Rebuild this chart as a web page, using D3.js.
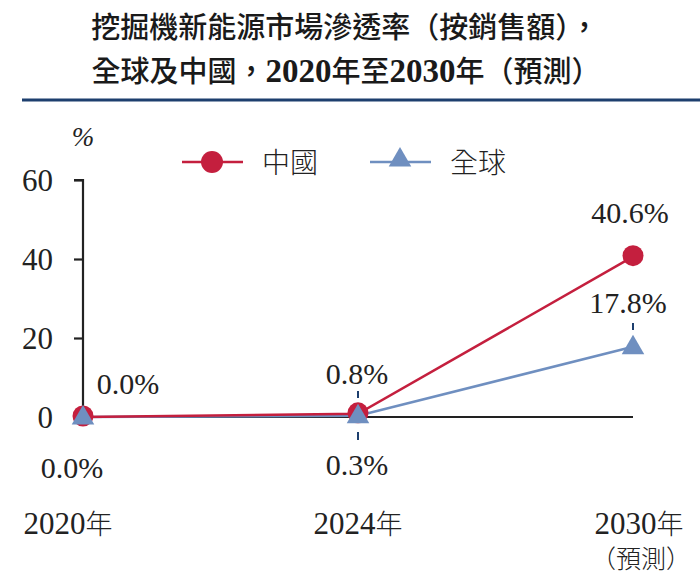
<!DOCTYPE html>
<html>
<head>
<meta charset="utf-8">
<script src="https://cdn.jsdelivr.net/npm/d3@7"></script>
</head>
<body style="margin:0">
<div id="chart"></div>
<script>
var years = ['2020年', '2024年', '2030年'];
var chinaVals = [0.0, 0.8, 40.6];
var globalVals = [0.0, 0.3, 17.8];
var chinaLabels = ['0.0%', '0.8%', '40.6%'];
var globalLabels = ['0.0%', '0.3%', '17.8%'];
var yTicks = [0, 20, 40, 60];

var w = 700, h = 582;
var red = '#c41f3e', blue = '#6f8fc0', navy = '#1d3f6e';
var SERIF = "'Liberation Serif'";
var CJK = "'Noto Sans CJK TC'";

var svg = d3.select('#chart')
    .append('svg')
    .attr('width', w)
    .attr('height', h);

// title
svg.append('text')
    .attr('x', 345).attr('y', 38)
    .attr('text-anchor', 'middle')
    .style('font-family', CJK).style('font-weight', 500)
    .style('font-size', '29px').style('fill', '#1a1a1a')
    .text('挖掘機新能源市場滲透率（按銷售額），');
var t2 = svg.append('text')
    .attr('x', 346).attr('y', 82)
    .attr('text-anchor', 'middle')
    .style('font-family', CJK).style('font-weight', 500)
    .style('font-size', '29px').style('fill', '#1a1a1a');
t2.append('tspan').text('全球及中國，');
t2.append('tspan').style('font-family', SERIF).style('font-weight', 700).style('font-size', '33px').text('2020');
t2.append('tspan').text('年至');
t2.append('tspan').style('font-family', SERIF).style('font-weight', 700).style('font-size', '33px').text('2030');
t2.append('tspan').text('年（預測）');

svg.append('line')
    .attr('x1', 22).attr('x2', 700)
    .attr('y1', 100).attr('y2', 100)
    .style('stroke', navy).style('stroke-width', 3);

var x = d3.scalePoint()
    .domain(years)
    .range([83, 633]);
var y = d3.scaleLinear()
    .domain([0, 60])
    .range([417, 180]);

// y axis
var yAxis = svg.append('g')
    .attr('transform', 'translate(83,0)')
    .call(d3.axisLeft(y).tickValues(yTicks).tickSize(9).tickPadding(14));
yAxis.select('.domain').style('stroke', '#222').style('stroke-width', 2.2)
    .attr('d', 'M-9,' + y(60) + 'H0V' + y(0));
yAxis.selectAll('.tick line').style('stroke', '#222').style('stroke-width', 2.2);
yAxis.selectAll('.tick line').filter((d) => d === 0).remove();
yAxis.selectAll('.tick text')
    .style('font-family', SERIF)
    .style('font-size', '31px').style('fill', '#222')
    .attr('x', -30).attr('dy', '0.35em');

svg.append('text')
    .attr('x', 83).attr('y', 146)
    .attr('text-anchor', 'middle')
    .style('font-family', SERIF).style('font-style', 'italic')
    .style('font-size', '27px').style('fill', '#222')
    .text('%');

// x axis
var xAxis = svg.append('g')
    .attr('transform', 'translate(0,' + y(0) + ')')
    .call(d3.axisBottom(x).tickSize(0).tickPadding(0));
xAxis.select('.domain').style('stroke', '#222').style('stroke-width', 2.2)
    .attr('d', 'M83,0H633');
xAxis.selectAll('.tick text').remove();

svg.selectAll('text.year')
    .data(years)
    .enter()
    .append('text')
    .attr('class', 'year')
    .attr('x', (d, i) => x(d) + [-15, 0, 6][i])
    .attr('y', 534)
    .attr('text-anchor', 'middle')
    .style('font-family', SERIF)
    .style('font-size', '31px').style('fill', '#222')
    .each(function (d) {
        var el = d3.select(this);
        el.append('tspan').text(d.slice(0, 4));
        el.append('tspan').style('font-family', CJK).style('font-size', '27px').style('font-weight', 300).text('年');
    });
svg.append('text')
    .attr('x', x(years[2]) + 8).attr('y', 568)
    .attr('text-anchor', 'middle')
    .style('font-family', CJK).style('font-weight', 300)
    .style('font-size', '25px').style('fill', '#222')
    .text('（預測）');

// lines
var line = d3.line()
    .x((d, i) => x(years[i]))
    .y((d) => y(d));

svg.append('path')
    .datum(globalVals)
    .attr('d', line)
    .style('fill', 'none').style('stroke', blue).style('stroke-width', 2.5);
svg.append('path')
    .datum(chinaVals)
    .attr('d', line)
    .style('fill', 'none').style('stroke', red).style('stroke-width', 2.5);

// markers
var tri = d3.symbol().type(d3.symbolTriangle).size(220);
svg.selectAll('circle.cn')
    .data(chinaVals)
    .enter()
    .append('circle')
    .attr('class', 'cn')
    .attr('cx', (d, i) => x(years[i]))
    .attr('cy', (d) => y(d) - 1)
    .attr('r', 10.5)
    .style('fill', red);
svg.selectAll('path.gl')
    .data(globalVals)
    .enter()
    .append('path')
    .attr('class', 'gl')
    .attr('d', tri)
    .attr('transform', (d, i) => 'translate(' + x(years[i]) + ',' + (y(d) + 1) + ')')
    .style('fill', blue);

// value labels
var cnPos = [[128, 394], [357, 384], [630, 223]];
var glPos = [[72, 478], [357, 475], [628, 313]];
svg.selectAll('text.cnl')
    .data(chinaLabels)
    .enter()
    .append('text')
    .attr('class', 'cnl')
    .attr('x', (d, i) => cnPos[i][0])
    .attr('y', (d, i) => cnPos[i][1])
    .attr('text-anchor', 'middle')
    .style('font-family', SERIF)
    .style('font-size', '30px').style('fill', '#222')
    .text((d) => d);
svg.selectAll('text.gll')
    .data(globalLabels)
    .enter()
    .append('text')
    .attr('class', 'gll')
    .attr('x', (d, i) => glPos[i][0])
    .attr('y', (d, i) => glPos[i][1])
    .attr('text-anchor', 'middle')
    .style('font-family', SERIF)
    .style('font-size', '30px').style('fill', '#222')
    .text((d) => d);

// leader dashes
var dashes = [[x(years[1]), 391, 398], [x(years[1]), 432, 440], [x(years[2]), 323, 330]];
svg.selectAll('line.dash')
    .data(dashes)
    .enter()
    .append('line')
    .attr('class', 'dash')
    .attr('x1', (d) => d[0]).attr('x2', (d) => d[0])
    .attr('y1', (d) => d[1]).attr('y2', (d) => d[2])
    .style('stroke', navy).style('stroke-width', 2);

// legend
var lg = svg.append('g');
lg.append('line').attr('x1', 182).attr('x2', 243).attr('y1', 162).attr('y2', 162)
    .style('stroke', red).style('stroke-width', 2.5);
lg.append('circle').attr('cx', 212).attr('cy', 162).attr('r', 11).style('fill', red);
lg.append('text').attr('x', 262).attr('y', 173)
    .style('font-family', CJK).style('font-weight', 300)
    .style('font-size', '28px').style('fill', '#222').text('中國');
lg.append('line').attr('x1', 370).attr('x2', 431).attr('y1', 162).attr('y2', 162)
    .style('stroke', blue).style('stroke-width', 2.5);
lg.append('path').attr('d', tri).attr('transform', 'translate(400,160)').style('fill', blue);
lg.append('text').attr('x', 450).attr('y', 173)
    .style('font-family', CJK).style('font-weight', 300)
    .style('font-size', '28px').style('fill', '#222').text('全球');
</script>
</body>
</html>
